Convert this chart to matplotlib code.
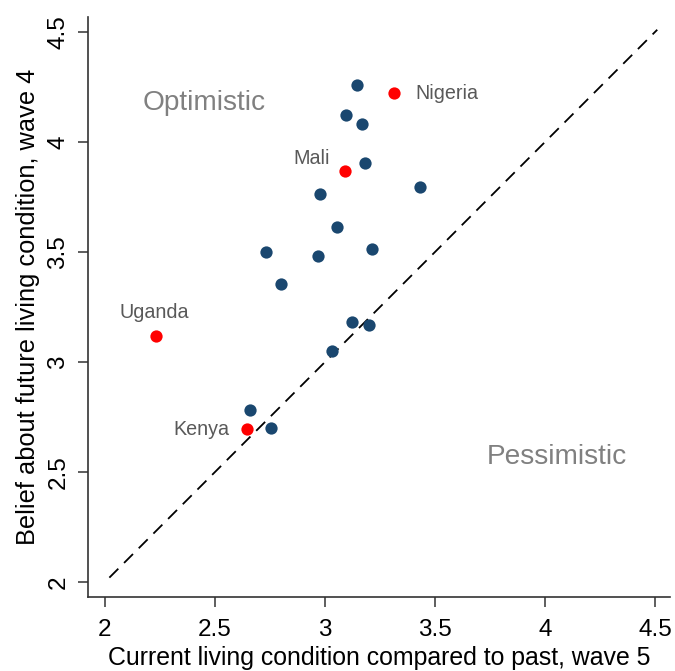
import numpy as np
import matplotlib.pyplot as plt

plt.rcParams['font.family'] = ['Liberation Sans', 'DejaVu Sans']

# current living condition (wave 5) vs belief about the future (wave 4)
past_w5 = [3.145, 3.168, 3.095, 3.182, 3.432, 2.977, 3.055, 2.732, 2.968,
           3.214, 2.800, 3.123, 3.200, 3.032, 2.659, 2.755]
future_w4 = [4.259, 4.082, 4.123, 3.905, 3.795, 3.764, 3.614, 3.500, 3.482,
             3.514, 3.355, 3.182, 3.168, 3.050, 2.782, 2.700]

countries = ['Nigeria', 'Mali', 'Uganda', 'Kenya']
hl_past = [3.314, 3.091, 2.232, 2.645]
hl_future = [4.223, 3.868, 3.118, 2.695]

navy = '#1a476f'
fig = plt.figure(figsize=(6.75, 6.71), dpi=100)
ax = fig.add_axes([0.1304, 0.1103, 0.8622, 0.8644])

# 45 degree reference line
diag = np.array([2.02, 4.51])
ax.plot(diag, diag, color='black', lw=1.3, dashes=(7, 4.5))

ax.scatter(past_w5, future_w4, s=78, color=navy, zorder=3, linewidths=0)
ax.scatter(hl_past, hl_future, s=78, color='#ff0000', zorder=3, linewidths=0)

lab_col = '#595959'
lab_fs = 14.2
ax.text(hl_past[0] + 0.095, hl_future[0] - 0.005, countries[0],
        fontsize=lab_fs, color=lab_col, va='center', ha='left')
ax.text(hl_past[1] - 0.068, hl_future[1] + 0.055, countries[1],
        fontsize=lab_fs, color=lab_col, va='center', ha='right')
ax.text(hl_past[2] - 0.01, hl_future[2] + 0.105, countries[2],
        fontsize=lab_fs, color=lab_col, va='center', ha='center')
ax.text(hl_past[3] - 0.081, hl_future[3], countries[3], fontsize=lab_fs,
        color=lab_col, va='center', ha='right')

ax.text(2.45, 4.177, 'Optimistic', fontsize=20.2, color='#808080',
        ha='center', va='center')
ax.text(4.055, 2.568, 'Pessimistic', fontsize=20.2, color='#808080',
        ha='center', va='center')

ticks = [2, 2.5, 3, 3.5, 4, 4.5]
tick_labels = ['2', '2.5', '3', '3.5', '4', '4.5']
ax.set_xlim(1.923, 4.568)
ax.set_ylim(1.932, 4.568)
ax.set_xticks(ticks)
ax.set_xticklabels(tick_labels)
ax.set_yticks(ticks)
ax.set_yticklabels(tick_labels, rotation=90, va='center')
ax.tick_params(axis='both', labelsize=17.5, length=7.5, width=1.1,
               color='#333333')
ax.tick_params(axis='x', pad=8)
ax.tick_params(axis='y', pad=6)

for side in ['top', 'right']:
    ax.spines[side].set_visible(False)
for side in ['left', 'bottom']:
    ax.spines[side].set_linewidth(1.2)
    ax.spines[side].set_color('#333333')

ax.set_xlabel('Current living condition compared to past, wave 5',
              fontsize=17.9, labelpad=4)
ax.set_ylabel('Belief about future living condition, wave 4',
              fontsize=18.3, labelpad=5)

fig.savefig('out.png', dpi=100)
